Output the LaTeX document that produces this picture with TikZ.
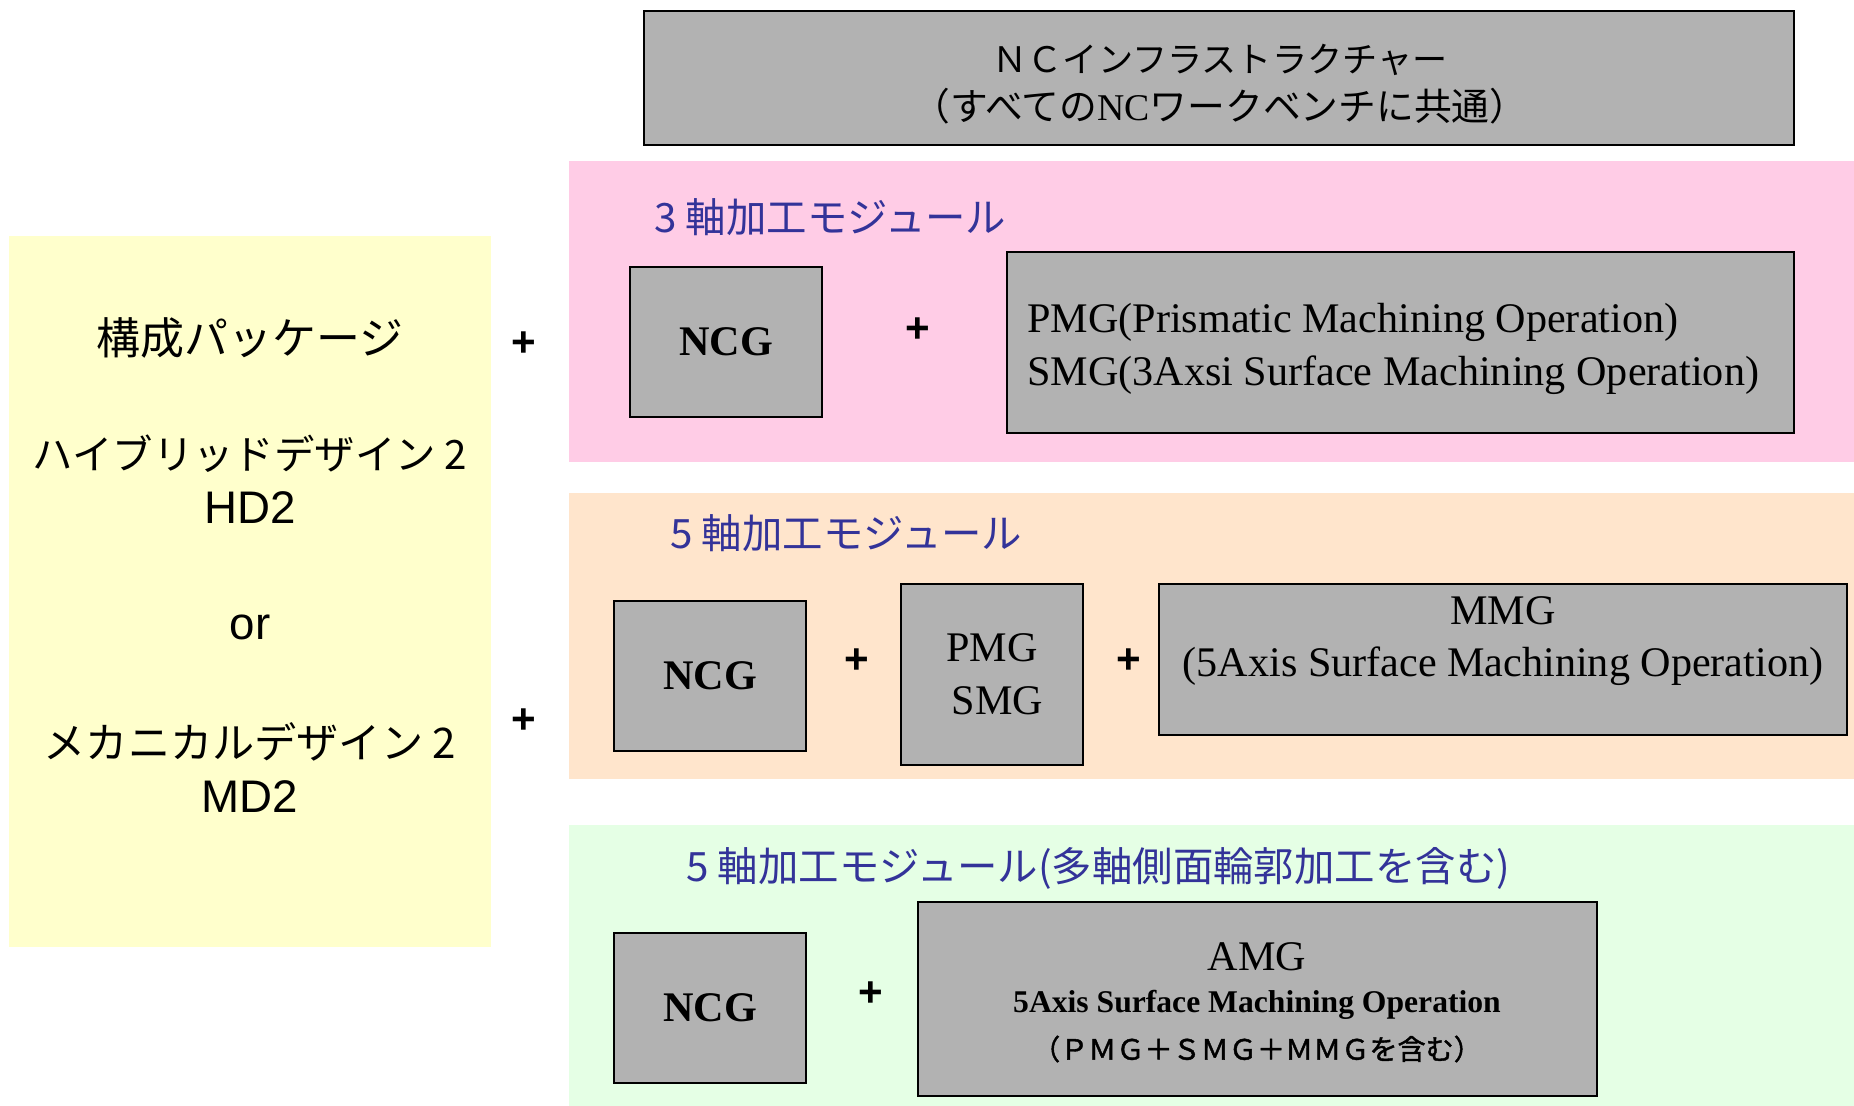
\documentclass[tikz,border=0pt]{standalone}
\usepackage{fontspec}
\setmainfont{Liberation Serif}
\newfontfamily\jp{Noto Sans CJK JP}
\newfontfamily\jpb[FakeBold=1.5]{Noto Sans CJK JP}
\newfontfamily\lsans{Liberation Sans}
\usepackage{tikz}
\usetikzlibrary{positioning}

\definecolor{boxgray}{HTML}{B2B2B2}
\definecolor{pkgyellow}{HTML}{FFFFCC}
\definecolor{modpink}{HTML}{FFCCE6}
\definecolor{modpeach}{HTML}{FFE5CC}
\definecolor{modgreen}{HTML}{E5FFE5}
\definecolor{titleblue}{HTML}{333399}

\begin{document}
\begin{tikzpicture}[x=0.02cm,y=-0.02cm,
    band/.style={anchor=north west,inner sep=0pt,minimum width=25.7cm},
    gbox/.style={draw,fill=boxgray,line width=1.2pt,inner sep=0pt},
    ncg/.style={gbox,minimum width=3.84cm,minimum height=3cm,font=\bfseries\fontsize{24}{24}\selectfont},
    plus/.style={font=\lsans\bfseries\fontsize{24}{24}\selectfont},
    modtitle/.style={anchor=west,inner sep=0pt,text=titleblue,font=\jp\fontsize{23}{23}\selectfont},
    pkgjp/.style={font=\jp\fontsize{24}{24}\selectfont},
    pkgen/.style={font=\lsans\fontsize{26}{26}\selectfont},
    serif/.style={font=\fontsize{24}{30}\selectfont}]
  \useasboundingbox (0,0) rectangle (1854,1106);

  % infrastructure
  \node[gbox,minimum width=23cm,minimum height=2.68cm] (infra) at (1219,78) {};
  \node[font=\jp\fontsize{20}{20}\selectfont] (infrattl) at (1220,60) {ＮＣインフラストラクチャー};
  \node[font=\jp\fontsize{21.5}{21.5}\selectfont] (infrasub) at (1220,106)
        {（すべての{\rmfamily NC}ワークベンチに共通）};

  % package
  \node[anchor=north west,inner sep=0pt,fill=pkgyellow,minimum width=9.64cm,minimum height=14.22cm] (pkg) at (9,236) {};
  \node[pkgjp,font=\jp\fontsize{25}{25}\selectfont] (pkgttl) at (250,338) {構成パッケージ};
  \node[pkgjp,font=\jp\fontsize{23}{23}\selectfont] (hdjp) at (250,454) {ハイブリッドデザイン 2};
  \node[pkgen] (hd) at (250,508) {HD2};
  \node[pkgen] (orword) at (250,627) {or};
  \node[pkgjp] (mdjp) at (250,742) {メカニカルデザイン 2};
  \node[pkgen] (md) at (250,797) {MD2};
  \node[plus] (pkgplusa) at (524,344) {+};
  \node[plus] (pkgplusb) at (524,721) {+};

  % 3 axis
  \node[band,fill=modpink,minimum height=6.02cm] (mod3) at (569,161) {};
  \node[modtitle] (mod3ttl) at (654,217) {3 軸加工モジュール};
  \node[ncg] (ncga) at (726,342) {NCG};
  \node[plus] (plusa) at (918,330) {+};
  \node[gbox,minimum width=15.74cm,minimum height=3.62cm] (pmgsmg) at (1400.5,342.5) {};
  \node[serif,anchor=west,align=left] (pmgsmgtxt) at (1021,349)
        {PMG(Prismatic Machining Operation)\\SMG(3Axsi Surface Machining Operation)};

  % 5 axis
  \node[band,fill=modpeach,minimum height=5.72cm] (mod5) at (569,493) {};
  \node[modtitle] (mod5ttl) at (670,533) {5 軸加工モジュール};
  \node[ncg] (ncgb) at (710,676) {NCG};
  \node[plus] (plusb) at (857,661) {+};
  \node[gbox,minimum width=3.64cm,minimum height=3.62cm,serif,align=center] (pmgb) at (992,674.5) {PMG\\\ SMG};
  \node[plus] (plusc) at (1129,661) {+};
  \node[gbox,minimum width=13.76cm,minimum height=3.02cm] (mmg) at (1503,659.5) {};
  \node[font=\fontsize{24}{29.6}\selectfont,align=center] (mmgtxt) at (1503,641)
        {MMG\\(5Axis Surface Machining Operation)};

  % 5 axis with swarf
  \node[band,fill=modgreen,minimum height=5.62cm] (mod5s) at (569,825) {};
  \node[modtitle] (mod5sttl) at (686,868) {5 軸加工モジュール(多軸側面輪郭加工を含む)};
  \node[ncg] (ncgc) at (710,1008) {NCG};
  \node[plus] (plusd) at (871,994) {+};
  \node[gbox,minimum width=13.58cm,minimum height=3.88cm] (amg) at (1257.5,999) {};
  \node[font=\fontsize{24}{24}\selectfont] (amgttl) at (1257,957) {AMG};
  \node[font=\bfseries\fontsize{18}{18}\selectfont] (amgsub) at (1257,1005) {5Axis Surface Machining Operation};
  \node[font=\jpb\fontsize{16}{16}\selectfont] (amgnote) at (1257,1049) {（ＰＭＧ＋ＳＭＧ＋ＭＭＧを含む）};
\end{tikzpicture}
\end{document}
